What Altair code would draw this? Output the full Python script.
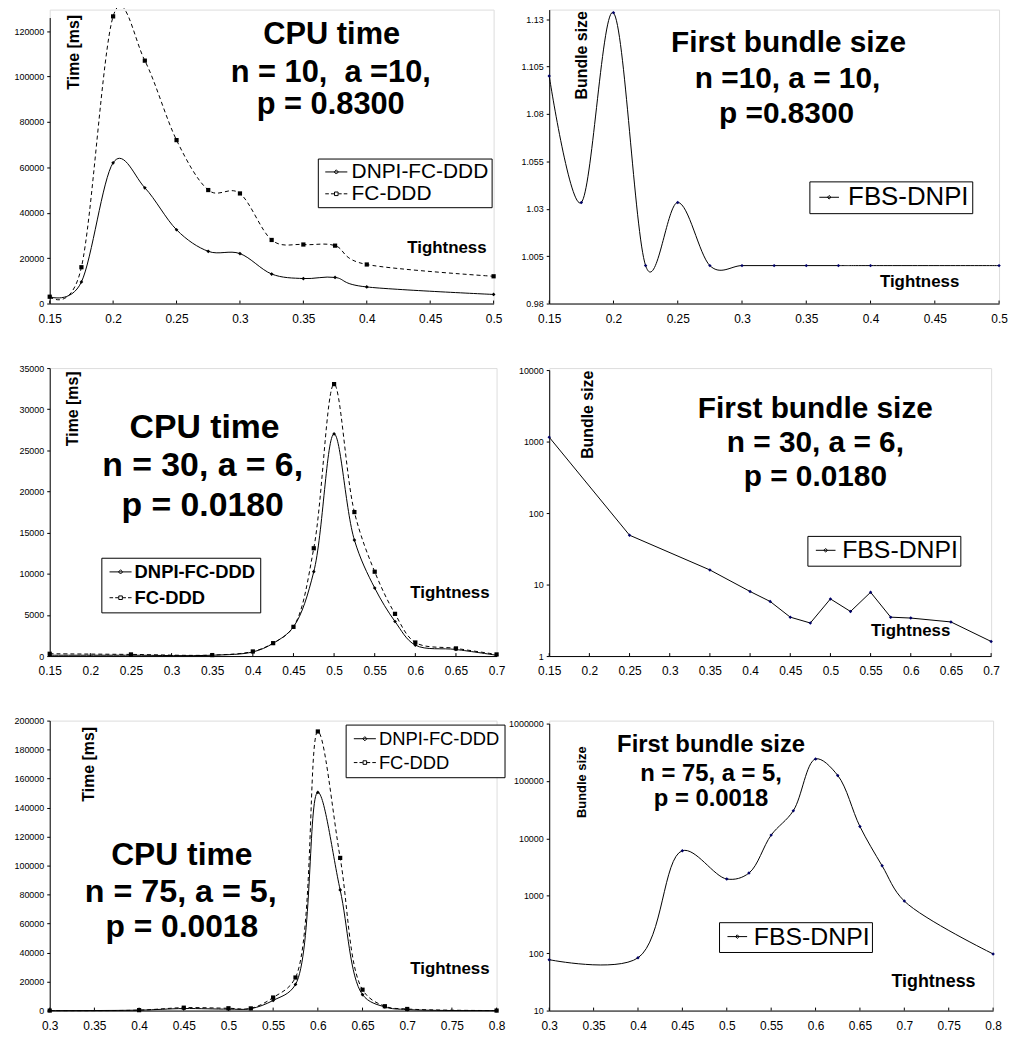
import altair as alt
import pandas as pd

FONT = "Liberation Sans"

# ---------------- data ----------------
S1 = "DNPI-FC-DDD"
S2 = "FC-DDD"
S3 = "FBS-DNPI"

# Panel 1: CPU time n=10, a=10, p=0.83
t1_x = [0.15, 0.175, 0.2, 0.225, 0.25, 0.275, 0.3, 0.325, 0.35, 0.375, 0.4, 0.5]
t1_dnpi = [3000, 9500, 62000, 51000, 32500, 23000, 22000, 13000, 11000, 11500, 7300, 4000]
t1_fc = [3000, 16000, 126500, 107000, 72000, 50000, 48500, 28000, 26000, 25500, 17200, 12000]

# Panel 2: first bundle size n=10, a=10
b1_x = [0.15, 0.175, 0.2, 0.225, 0.25, 0.275, 0.3, 0.325, 0.35, 0.375, 0.4, 0.5]
b1_fbs = [1.1, 1.0333, 1.1333, 1.0, 1.0333, 1.0, 1.0, 1.0, 1.0, 1.0, 1.0, 1.0]

# Panel 3: CPU time n=30, a=6, p=0.018
t2_x = [0.15, 0.25, 0.35, 0.4, 0.425, 0.45, 0.475, 0.5, 0.525, 0.55, 0.575, 0.6, 0.65, 0.7]
t2_dnpi = [100, 100, 100, 500, 1550, 3550, 10250, 27000, 14100, 8270, 4200, 1330, 800, 100]
t2_fc = [280, 200, 120, 560, 1570, 3550, 13100, 33050, 17500, 10250, 5130, 1650, 930, 200]

# Panel 4: first bundle size n=30, a=6 (log)
b2_x = [0.15, 0.25, 0.35, 0.4, 0.425, 0.45, 0.475, 0.5, 0.525, 0.55, 0.575, 0.6, 0.65, 0.7]
b2_fbs = [1150, 49, 16, 8.0, 5.8, 3.5, 2.9, 6.3, 4.2, 7.8, 3.5, 3.4, 3.0, 1.6]

# Panel 5: CPU time n=75, a=5, p=0.0018
t3_x = [0.3, 0.4, 0.45, 0.5, 0.525, 0.55, 0.575, 0.6, 0.625, 0.65, 0.675, 0.7, 0.8]
t3_dnpi = [0, 300, 1400, 1000, 1300, 7000, 18000, 150500, 83200, 11000, 2500, 700, 0]
t3_fc = [0, 300, 2000, 1600, 1500, 9000, 22800, 192500, 105300, 14400, 3000, 1100, 0]

# Panel 6: first bundle size n=75, a=5 (log)
b3_x = [0.3, 0.4, 0.45, 0.5, 0.525, 0.55, 0.575, 0.6, 0.625, 0.65, 0.675, 0.7, 0.8]
b3_fbs = [77, 83, 6100, 1960, 2490, 11400, 30400, 242000, 125000, 16100, 3330, 809, 97]

# tick values
xt_a = [0.15, 0.2, 0.25, 0.3, 0.35, 0.4, 0.45, 0.5]
xt_b = [0.15, 0.2, 0.25, 0.3, 0.35, 0.4, 0.45, 0.5, 0.55, 0.6, 0.65, 0.7]
xt_c = [0.3, 0.35, 0.4, 0.45, 0.5, 0.55, 0.6, 0.65, 0.7, 0.75, 0.8]
yt_1 = [0, 20000, 40000, 60000, 80000, 100000, 120000]
yt_2 = [0.98, 1.005, 1.03, 1.055, 1.08, 1.105, 1.13]
yt_3 = [0, 5000, 10000, 15000, 20000, 25000, 30000, 35000]
yt_4 = [1, 10, 100, 1000, 10000]
yt_5 = [0, 20000, 40000, 60000, 80000, 100000, 120000, 140000, 160000, 180000, 200000]
yt_6 = [10, 100, 1000, 10000, 100000, 1000000]

# ---------------- styling helpers ----------------
PATH_SOLID = "M-1,0H2.7M0.85,-0.35L1.2,0L0.85,0.35L0.5,0Z"
PATH_DASH = "M-1,0H-0.4M-0.05,0H0.5M1.2,0H1.75M2.1,0H2.7M0.55,-0.3H1.15V0.3H0.55Z"
PATH_FBS = "M-1,0H2.3M0.65,-0.3L0.95,0L0.65,0.3L0.35,0Z"
DASH = [4, 3]
NB = "\u00a0"


def x_axis(ticks):
    return alt.Axis(values=ticks, format="~g", labelFont=FONT, labelFontSize=12,
                    labelColor="black", ticks=False, tickSize=0, labelPadding=10,
                    domainColor="black", domainWidth=1, grid=False, title=None,
                    labelFlush=False, labelOverlap=False)


def y_axis(ticks, fmt):
    return alt.Axis(values=ticks, format=fmt, labelFont=FONT, labelFontSize=9,
                    labelColor="black", tickSize=3, tickColor="black", labelPadding=3,
                    domainColor="black", domainWidth=1, grid=False, title=None,
                    labelFlush=False, labelOverlap=False)


def text_layer(txt, x, y, size, angle=0, bold=True):
    return alt.Chart(pd.DataFrame({"t": [txt]})).mark_text(
        font=FONT, fontSize=size, fontWeight="bold" if bold else "normal",
        angle=angle, align="center", baseline="alphabetic", color="black"
    ).encode(x=alt.value(x), y=alt.value(y), text="t:N")


def tick_layer(ticks, xenc_scale, xax, H):
    return alt.Chart(pd.DataFrame({"t": ticks})).mark_rule(color="black", strokeWidth=1).encode(
        x=alt.X("t:Q", scale=xenc_scale, axis=xax), y=alt.value(H), y2=alt.value(H - 3))


def legend(lx, ly, fs, bold, pad, rowpad, loff):
    return alt.Legend(orient="none", legendX=lx, legendY=ly, title=None,
                      labelFont=FONT, labelFontSize=fs,
                      labelFontWeight="bold" if bold else "normal",
                      labelColor="black", strokeColor="black", fillColor="white",
                      padding=pad, rowPadding=rowpad, symbolSize=144,
                      symbolStrokeWidth=1, symbolStrokeColor="black",
                      symbolFillColor="black", symbolOpacity=1, labelOffset=loff,
                      labelExpr="datum.label + '" + NB + NB + "'")


def cpu_panel(xs, a, b, xdom, xticks, ydom, yrange, yticks, W, H, interp, leg, texts):
    df = pd.DataFrame({"x": xs + xs, "y": a + b, "s": [S1] * len(xs) + [S2] * len(xs)})
    xsc = alt.Scale(domain=xdom, nice=False, zero=False)
    ysc = alt.Scale(domain=ydom, range=yrange, nice=False, zero=False)
    xax = x_axis(xticks)
    yax = y_axis(yticks, "d")
    X = alt.X("x:Q", scale=xsc, axis=xax)
    Y = alt.Y("y:Q", scale=ysc, axis=yax)
    base = alt.Chart(df)
    d1 = base.transform_filter(alt.datum.s == S1)
    d2 = base.transform_filter(alt.datum.s == S2)
    l1 = d1.mark_line(interpolate=interp, color="black", strokeWidth=1, clip=False).encode(x=X, y=Y)
    l2 = d2.mark_line(interpolate=interp, color="black", strokeWidth=1, strokeDash=DASH,
                      clip=False).encode(x=X, y=Y)
    p1 = d1.mark_point(shape="diamond", filled=True, color="black", size=14, opacity=1).encode(x=X, y=Y)
    p2 = d2.mark_point(shape="square", filled=True, color="black", size=18, opacity=1).encode(x=X, y=Y)
    lg = base.mark_point(opacity=0, filled=False, color="black", strokeWidth=1).encode(
        x=X, y=Y,
        shape=alt.Shape("s:N", scale=alt.Scale(domain=[S1, S2], range=[PATH_SOLID, PATH_DASH]),
                        legend=leg))
    layers = [tick_layer(xticks, xsc, xax, H), l1, l2, p1, p2, lg]
    layers += [text_layer(*t) for t in texts]
    return alt.layer(*layers).properties(width=W, height=H)


def fbs_panel(xs, v, xdom, xticks, ydom, yrange, yticks, yfmt, log, interp, W, H, leg, texts):
    df = pd.DataFrame({"x": xs, "y": v, "s": [S3] * len(xs)})
    xsc = alt.Scale(domain=xdom, nice=False, zero=False)
    if log:
        ysc = alt.Scale(type="log", domain=ydom, range=yrange, nice=False)
    else:
        ysc = alt.Scale(domain=ydom, range=yrange, nice=False, zero=False)
    xax = x_axis(xticks)
    yax = y_axis(yticks, yfmt)
    X = alt.X("x:Q", scale=xsc, axis=xax)
    Y = alt.Y("y:Q", scale=ysc, axis=yax)
    base = alt.Chart(df)
    line = base.mark_line(interpolate=interp, color="black", strokeWidth=1, clip=False).encode(x=X, y=Y)
    pts = base.mark_point(shape="diamond", filled=True, color="#000066", size=12, opacity=1).encode(x=X, y=Y)
    lg = base.mark_point(opacity=0, filled=False, color="black", strokeWidth=1).encode(
        x=X, y=Y,
        shape=alt.Shape("s:N", scale=alt.Scale(domain=[S3], range=[PATH_FBS]), legend=leg))
    layers = [tick_layer(xticks, xsc, xax, H), line, pts, lg]
    layers += [text_layer(*t) for t in texts]
    return alt.layer(*layers).properties(width=W, height=H)


# ---------------- panels ----------------
H1, H2, H3 = 296, 290, 292

panel1 = cpu_panel(
    t1_x, t1_dnpi, t1_fc, [0.15, 0.5], xt_a, [0, 126000], [H1, 8], yt_1, 447, H1, "cardinal",
    legend(270, 150, 21, False, 3, 0, 10),
    [("CPU time", 284, 35, 31), ("n = 10," + NB + " a =10,", 283, 73, 31), ("p = 0.8300", 283, 105, 31),
     ("Time [ms]", 29, 43, 16, 270), ("Tightness", 400, 245, 17)])

panel2 = fbs_panel(
    b1_x, b1_fbs, [0.15, 0.5], xt_a, [0.98, 1.135], [H1, 0], yt_2, ".4~g", False, "cardinal", 453, H1,
    legend(262, 173, 26, False, 3, 0, 10),
    [("First bundle size", 241, 43, 30), ("n =10, a = 10,", 240, 79, 30), ("p =0.8300", 239, 114, 30),
     ("Bundle size", 38, 46, 16, 270), ("Tightness", 373, 279, 17)])

panel3 = cpu_panel(
    t2_x, t2_dnpi, t2_fc, [0.15, 0.7], xt_b, [0, 35000], [H2, 0], yt_3, 450, H2, "catmull-rom",
    legend(52, 191, 18.5, True, 5, 7, 10),
    [("CPU time", 156, 70, 34), ("n = 30, a = 6,", 154, 109, 34), ("p = 0.0180", 154, 149, 34),
     ("Time [ms]", 28, 41, 16, 270), ("Tightness", 403, 232, 17)])

panel4 = fbs_panel(
    b2_x, b2_fbs, [0.15, 0.7], xt_b, [1, 10000], [H2, 2], yt_4, "d", True, "linear", 445, H2,
    legend(260, 169, 25, False, 2, 0, 8),
    [("First bundle size", 268, 50, 30), ("n = 30, a = 6,", 268, 85, 30), ("p = 0.0180", 268, 119, 30),
     ("Bundle size", 44, 47, 16, 270), ("Tightness", 364, 270, 17)])

panel5 = cpu_panel(
    t3_x, t3_dnpi, t3_fc, [0.3, 0.8], xt_c, [0, 200000], [H3, 0], yt_5, 450, H3, "catmull-rom",
    legend(298, 4, 18.5, False, 5, 5, 10),
    [("CPU time", 133, 145, 32), ("n = 75, a = 5,", 132, 183, 32.5), ("p = 0.0018", 133, 218, 32),
     ("Time [ms]", 45, 44, 16, 270), ("Tightness", 403, 255, 17)])

panel6 = fbs_panel(
    b3_x, b3_fbs, [0.3, 0.8], xt_c, [10, 1000000], [H3, 3], yt_6, "d", True, "catmull-rom", 447, H3,
    legend(171, 203, 25, False, 2, 0, 8),
    [("First bundle size", 163, 32, 24), ("n = 75, a = 5,", 163, 61, 24), ("p = 0.0018", 163, 86, 24),
     ("Bundle size", 37, 62, 13, 270), ("Tightness", 387, 268, 18)])

chart = alt.concat(
    panel1, panel2, panel3, panel4, panel5, panel6,
    columns=2, spacing={"row": 65, "column": 53}, bounds="flush"
).resolve_scale(
    shape="independent"
).resolve_legend(
    shape="independent"
).properties(
    padding={"left": 5, "top": -9, "right": 0, "bottom": 0}
).configure_view(stroke=None).configure(font=FONT)

chart.save("out.html", embed_options={"renderer": "svg", "actions": False})
